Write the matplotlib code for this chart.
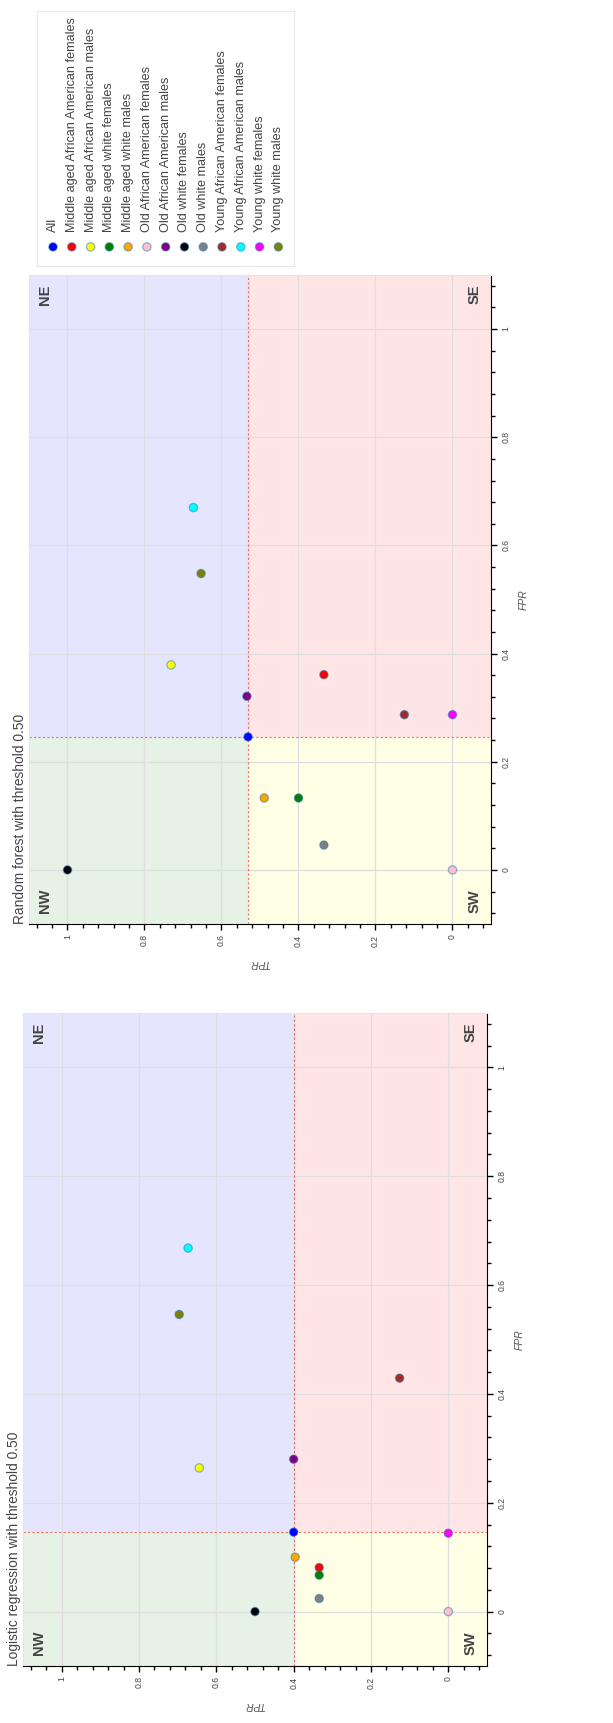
import numpy as np
import matplotlib
matplotlib.use("Agg")
import matplotlib.pyplot as plt
from matplotlib.patches import Rectangle
from matplotlib.ticker import MultipleLocator

plt.rcParams["font.family"] = ["Liberation Sans", "DejaVu Sans"]

groups = [
    "All",
    "Middle aged African American females",
    "Middle aged African American males",
    "Middle aged white females",
    "Middle aged white males",
    "Old African American females",
    "Old African American males",
    "Old white females",
    "Old white males",
    "Young African American females",
    "Young African American males",
    "Young white females",
    "Young white males",
]
group_colors = [
    "#0000ff", "#ff0000", "#ffff00", "#008000", "#ffa500", "#ffc0cb",
    "#800080", "#000000", "#808080", "#a52a2a", "#00ffff", "#ff00ff", "#808000",
]

# logistic regression, threshold 0.50
lr_tpr = [0.400, 0.334, 0.644, 0.334, 0.396, 0.0, 0.400, 0.500, 0.334, 0.126, 0.673, 0.0, 0.696]
lr_fpr = [0.146, 0.081, 0.264, 0.067, 0.100, 0.0, 0.280, 0.0, 0.024, 0.429, 0.668, 0.144, 0.546]

# random forest, threshold 0.50
rf_tpr = [0.531, 0.334, 0.731, 0.400, 0.489, 0.0, 0.534, 1.000, 0.334, 0.125, 0.673, 0.0, 0.653]
rf_fpr = [0.246, 0.361, 0.379, 0.133, 0.133, 0.0, 0.321, 0.0, 0.046, 0.287, 0.670, 0.287, 0.548]

TXT = "#444444"
LIM = (-0.1, 1.1)
EDGE = (0.12, 0.47, 0.71, 0.5)

W, H = 613, 1723
fig = plt.figure(figsize=(W / 100, H / 100), dpi=100)


def px_axes(x0, y0, x1, y1):
    return fig.add_axes([x0 / W, 1 - y1 / H, (x1 - x0) / W, (y1 - y0) / H])


def quadrant_panel(ax, tpr, fpr, title):
    thr_tpr, thr_fpr = tpr[0], fpr[0]
    lo, hi = LIM
    ax.set_xlim(hi, lo)
    ax.set_ylim(lo, hi)
    ax.set_axisbelow(True)
    ax.grid(True, which="major", color="#dedede", lw=0.9)

    # quadrants: x is TPR, y is FPR
    quads = [
        ((thr_tpr, lo), hi - thr_tpr, thr_fpr - lo, "green"),   # NW
        ((thr_tpr, thr_fpr), hi - thr_tpr, hi - thr_fpr, "blue"),  # NE
        ((lo, lo), thr_tpr - lo, thr_fpr - lo, "yellow"),      # SW
        ((lo, thr_fpr), thr_tpr - lo, hi - thr_fpr, "red"),    # SE
    ]
    for xy, w, h, c in quads:
        ax.add_patch(Rectangle(xy, w, h, facecolor=c, alpha=0.1, lw=0, zorder=0.5))

    ax.axvline(thr_tpr, color="#e8413c", lw=0.8, ls=(0, (2, 2)), alpha=0.75, zorder=1)
    ax.axhline(thr_fpr, color="#e8413c", lw=0.8, ls=(0, (2, 2)), alpha=0.75, zorder=1)

    ax.scatter(tpr, fpr, c=group_colors, s=36, edgecolors=EDGE, linewidths=0.9, zorder=3)

    qkw = dict(rotation=90, fontsize=10.5, fontweight="bold", color=TXT, transform=ax.transAxes)
    ax.text(0.035, 0.985, "NE", ha="center", va="top", **qkw)
    ax.text(0.965, 0.985, "SE", ha="center", va="top", **qkw)
    ax.text(0.035, 0.017, "NW", ha="center", va="bottom", **qkw)
    ax.text(0.965, 0.017, "SW", ha="center", va="bottom", **qkw)

    ax.xaxis.set_major_locator(MultipleLocator(0.2))
    ax.yaxis.set_major_locator(MultipleLocator(0.2))
    ax.xaxis.set_minor_locator(MultipleLocator(0.04))
    ax.yaxis.set_minor_locator(MultipleLocator(0.04))
    ax.xaxis.set_major_formatter(lambda v, p: f"{v:g}" if abs(v) > 1e-9 else "0")
    ax.yaxis.set_major_formatter(lambda v, p: f"{v:g}" if abs(v) > 1e-9 else "0")
    ax.yaxis.tick_right()
    ax.tick_params(which="major", length=4.5, width=1, color="black", labelsize=6.2,
                   labelcolor=TXT, pad=3)
    ax.tick_params(which="minor", length=3, width=1, color="black")
    ax.tick_params(axis="both", labelrotation=90)
    for lab in ax.get_yticklabels():
        lab.set_va("center")

    for side in ("top", "left"):
        ax.spines[side].set_color("#e5e5e5")
    for side in ("bottom", "right"):
        ax.spines[side].set_color("black")

    ax.set_xlabel("TPR", rotation=180, style="italic", fontsize=7.5, color="#555555")
    ax.set_ylabel("FPR", rotation=90, style="italic", fontsize=7.5, color="#555555")
    ax.yaxis.set_label_position("right")
    ax.xaxis.set_label_coords(0.5, -0.052)
    ax.yaxis.set_label_coords(1.06, 0.5)

    ax.text(-0.005, 0.0, title, rotation=90, ha="right", va="bottom", fontsize=9.9,
            color=TXT, transform=ax.transAxes)


ax_rf = px_axes(29, 275, 491, 924)
quadrant_panel(ax_rf, rf_tpr, rf_fpr, "Random forest with threshold 0.50")

ax_lr = px_axes(23, 1013, 487, 1666)
quadrant_panel(ax_lr, lr_tpr, lr_fpr, "Logistic regression with threshold 0.50")

# legend laid out along x by group index
ax_leg = px_axes(37, 11, 294, 266)
ax_leg.set_xlim(-0.852, 12.833)
ax_leg.set_ylim(0, 1)
ax_leg.set_xticks([])
ax_leg.set_yticks([])
for s in ax_leg.spines.values():
    s.set_color("#e8e8e8")
idx = np.arange(len(groups))
ax_leg.scatter(idx, np.full(len(groups), 0.075), c=group_colors, s=36,
               edgecolors=EDGE, linewidths=0.9)
for i, name in enumerate(groups):
    ax_leg.text(i, 0.135, name, rotation=90, ha="center", va="bottom",
                fontsize=9.1, color=TXT)

fig.savefig("out.png", dpi=100)
